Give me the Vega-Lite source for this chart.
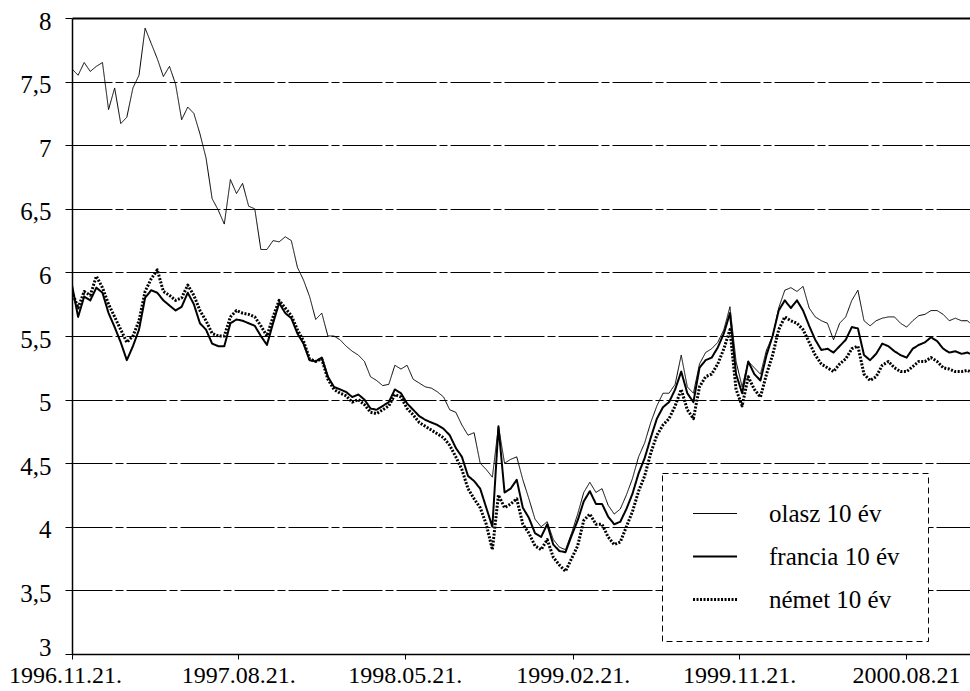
{
"$schema": "https://vega.github.io/schema/vega-lite/v6.json",
"width": 898,
"height": 636,
"autosize": {"type": "none"},
"padding": {"left": 72, "top": 18, "right": 0, "bottom": 37},
"background": "white",
"config": {"view": {"stroke": null}, "font": "Liberation Serif, Times New Roman, serif", "legend": {"strokeDash": [6, 4]}},
"data": {"values": [
{"nap":"1996-11-21","olasz 10 év":7.6,"francia 10 év":5.9,"német 10 év":5.85},
{"nap":"1996-12-01","olasz 10 év":7.55,"francia 10 év":5.65,"német 10 év":5.72},
{"nap":"1996-12-11","olasz 10 év":7.65,"francia 10 év":5.81,"német 10 év":5.85},
{"nap":"1996-12-21","olasz 10 év":7.58,"francia 10 év":5.78,"német 10 év":5.82},
{"nap":"1996-12-31","olasz 10 év":7.62,"francia 10 év":5.88,"német 10 év":5.97},
{"nap":"1997-01-10","olasz 10 év":7.65,"francia 10 év":5.84,"német 10 év":5.88},
{"nap":"1997-01-20","olasz 10 év":7.28,"francia 10 év":5.68,"német 10 év":5.75},
{"nap":"1997-01-30","olasz 10 év":7.45,"francia 10 év":5.57,"német 10 év":5.65},
{"nap":"1997-02-09","olasz 10 év":7.17,"francia 10 év":5.45,"német 10 év":5.55},
{"nap":"1997-02-19","olasz 10 év":7.22,"francia 10 év":5.31,"német 10 év":5.45},
{"nap":"1997-03-01","olasz 10 év":7.45,"francia 10 év":5.42,"német 10 év":5.5},
{"nap":"1997-03-11","olasz 10 év":7.55,"francia 10 év":5.55,"német 10 év":5.62},
{"nap":"1997-03-21","olasz 10 év":7.92,"francia 10 év":5.8,"német 10 év":5.85},
{"nap":"1997-03-31","olasz 10 év":7.8,"francia 10 év":5.86,"német 10 év":5.95},
{"nap":"1997-04-10","olasz 10 év":7.68,"francia 10 év":5.84,"német 10 év":6.02},
{"nap":"1997-04-20","olasz 10 év":7.54,"francia 10 év":5.78,"német 10 év":5.85},
{"nap":"1997-04-30","olasz 10 év":7.62,"francia 10 év":5.74,"német 10 év":5.82},
{"nap":"1997-05-10","olasz 10 év":7.48,"francia 10 év":5.7,"német 10 év":5.78},
{"nap":"1997-05-20","olasz 10 év":7.2,"francia 10 év":5.73,"német 10 év":5.8},
{"nap":"1997-05-30","olasz 10 év":7.3,"francia 10 év":5.84,"német 10 év":5.9},
{"nap":"1997-06-09","olasz 10 év":7.25,"francia 10 év":5.75,"német 10 év":5.82},
{"nap":"1997-06-19","olasz 10 év":7.09,"francia 10 év":5.6,"német 10 év":5.7},
{"nap":"1997-06-29","olasz 10 év":6.9,"francia 10 év":5.55,"német 10 év":5.62},
{"nap":"1997-07-09","olasz 10 év":6.58,"francia 10 év":5.44,"német 10 év":5.52},
{"nap":"1997-07-19","olasz 10 év":6.49,"francia 10 év":5.42,"német 10 év":5.5},
{"nap":"1997-07-29","olasz 10 év":6.38,"francia 10 év":5.42,"német 10 év":5.5},
{"nap":"1997-08-08","olasz 10 év":6.73,"francia 10 év":5.6,"német 10 év":5.65},
{"nap":"1997-08-18","olasz 10 év":6.62,"francia 10 év":5.63,"német 10 év":5.7},
{"nap":"1997-08-28","olasz 10 év":6.7,"francia 10 év":5.62,"német 10 év":5.68},
{"nap":"1997-09-07","olasz 10 év":6.52,"francia 10 év":5.6,"német 10 év":5.67},
{"nap":"1997-09-17","olasz 10 év":6.5,"francia 10 év":5.58,"német 10 év":5.65},
{"nap":"1997-09-27","olasz 10 év":6.18,"francia 10 év":5.5,"német 10 év":5.58},
{"nap":"1997-10-07","olasz 10 év":6.18,"francia 10 év":5.43,"német 10 év":5.5},
{"nap":"1997-10-17","olasz 10 év":6.25,"francia 10 év":5.6,"német 10 év":5.65},
{"nap":"1997-10-27","olasz 10 év":6.24,"francia 10 év":5.76,"német 10 év":5.78},
{"nap":"1997-11-06","olasz 10 év":6.28,"francia 10 év":5.68,"német 10 év":5.72},
{"nap":"1997-11-16","olasz 10 év":6.25,"francia 10 év":5.64,"német 10 év":5.66},
{"nap":"1997-11-26","olasz 10 év":6.04,"francia 10 év":5.52,"német 10 év":5.55},
{"nap":"1997-12-06","olasz 10 év":5.94,"francia 10 év":5.44,"német 10 év":5.46},
{"nap":"1997-12-16","olasz 10 év":5.81,"francia 10 év":5.31,"német 10 év":5.32},
{"nap":"1997-12-26","olasz 10 év":5.63,"francia 10 év":5.3,"német 10 év":5.3},
{"nap":"1998-01-05","olasz 10 év":5.68,"francia 10 év":5.33,"német 10 év":5.32},
{"nap":"1998-01-15","olasz 10 év":5.5,"francia 10 év":5.18,"német 10 év":5.16},
{"nap":"1998-01-25","olasz 10 év":5.5,"francia 10 év":5.1,"német 10 év":5.08},
{"nap":"1998-02-04","olasz 10 év":5.47,"francia 10 év":5.08,"német 10 év":5.05},
{"nap":"1998-02-14","olasz 10 év":5.42,"francia 10 év":5.06,"német 10 év":5.03},
{"nap":"1998-02-24","olasz 10 év":5.38,"francia 10 év":5.02,"német 10 év":4.98},
{"nap":"1998-03-06","olasz 10 év":5.35,"francia 10 év":5.04,"német 10 év":5.0},
{"nap":"1998-03-16","olasz 10 év":5.3,"francia 10 év":5.0,"német 10 év":4.96},
{"nap":"1998-03-26","olasz 10 év":5.18,"francia 10 év":4.93,"német 10 év":4.9},
{"nap":"1998-04-05","olasz 10 év":5.15,"francia 10 év":4.92,"német 10 év":4.89},
{"nap":"1998-04-15","olasz 10 év":5.11,"francia 10 év":4.95,"német 10 év":4.92},
{"nap":"1998-04-25","olasz 10 év":5.12,"francia 10 év":4.98,"német 10 év":4.95},
{"nap":"1998-05-05","olasz 10 év":5.27,"francia 10 év":5.08,"német 10 év":5.04},
{"nap":"1998-05-15","olasz 10 év":5.24,"francia 10 év":5.05,"német 10 év":5.02},
{"nap":"1998-05-25","olasz 10 év":5.27,"francia 10 év":4.97,"német 10 év":4.93},
{"nap":"1998-06-04","olasz 10 év":5.16,"francia 10 év":4.92,"német 10 év":4.88},
{"nap":"1998-06-14","olasz 10 év":5.13,"francia 10 év":4.87,"német 10 év":4.82},
{"nap":"1998-06-24","olasz 10 év":5.1,"francia 10 év":4.84,"német 10 év":4.79},
{"nap":"1998-07-04","olasz 10 év":5.09,"francia 10 év":4.82,"német 10 év":4.76},
{"nap":"1998-07-14","olasz 10 év":5.06,"francia 10 év":4.8,"német 10 év":4.73},
{"nap":"1998-07-24","olasz 10 év":5.02,"francia 10 év":4.77,"német 10 év":4.7},
{"nap":"1998-08-03","olasz 10 év":4.92,"francia 10 év":4.72,"német 10 év":4.64},
{"nap":"1998-08-13","olasz 10 év":4.9,"francia 10 év":4.62,"német 10 év":4.55},
{"nap":"1998-08-23","olasz 10 év":4.8,"francia 10 év":4.55,"német 10 év":4.45},
{"nap":"1998-09-02","olasz 10 év":4.72,"francia 10 év":4.4,"német 10 év":4.3},
{"nap":"1998-09-12","olasz 10 év":4.74,"francia 10 év":4.36,"német 10 év":4.22},
{"nap":"1998-09-22","olasz 10 év":4.5,"francia 10 év":4.3,"német 10 év":4.15},
{"nap":"1998-10-02","olasz 10 év":4.45,"francia 10 év":4.15,"német 10 év":4.02},
{"nap":"1998-10-12","olasz 10 év":4.39,"francia 10 év":4.0,"német 10 év":3.82},
{"nap":"1998-10-22","olasz 10 év":4.79,"francia 10 év":4.79,"német 10 év":4.25},
{"nap":"1998-11-01","olasz 10 év":4.5,"francia 10 év":4.27,"német 10 év":4.15},
{"nap":"1998-11-11","olasz 10 év":4.53,"francia 10 év":4.3,"német 10 év":4.18},
{"nap":"1998-11-21","olasz 10 év":4.55,"francia 10 év":4.37,"német 10 év":4.22},
{"nap":"1998-12-01","olasz 10 év":4.37,"francia 10 év":4.15,"német 10 év":4.02},
{"nap":"1998-12-11","olasz 10 év":4.22,"francia 10 év":4.07,"német 10 év":3.95},
{"nap":"1998-12-21","olasz 10 év":4.06,"francia 10 év":3.95,"német 10 év":3.85},
{"nap":"1998-12-31","olasz 10 év":4.0,"francia 10 év":3.92,"német 10 év":3.82},
{"nap":"1999-01-10","olasz 10 év":4.04,"francia 10 év":4.02,"német 10 év":3.9},
{"nap":"1999-01-20","olasz 10 év":3.9,"francia 10 év":3.86,"német 10 év":3.76},
{"nap":"1999-01-30","olasz 10 év":3.84,"francia 10 év":3.81,"német 10 év":3.7},
{"nap":"1999-02-09","olasz 10 év":3.82,"francia 10 év":3.8,"német 10 év":3.65},
{"nap":"1999-02-19","olasz 10 év":3.95,"francia 10 év":3.93,"német 10 év":3.75},
{"nap":"1999-03-01","olasz 10 év":4.1,"francia 10 év":4.05,"német 10 év":3.85},
{"nap":"1999-03-11","olasz 10 év":4.27,"francia 10 év":4.2,"német 10 év":4.05},
{"nap":"1999-03-21","olasz 10 év":4.35,"francia 10 év":4.28,"német 10 év":4.1},
{"nap":"1999-03-31","olasz 10 év":4.27,"francia 10 év":4.18,"német 10 év":4.02},
{"nap":"1999-04-10","olasz 10 év":4.3,"francia 10 év":4.18,"német 10 év":4.02},
{"nap":"1999-04-20","olasz 10 év":4.17,"francia 10 év":4.08,"német 10 év":3.92},
{"nap":"1999-04-30","olasz 10 év":4.1,"francia 10 év":4.02,"német 10 év":3.86},
{"nap":"1999-05-10","olasz 10 év":4.14,"francia 10 év":4.04,"német 10 év":3.88},
{"nap":"1999-05-20","olasz 10 év":4.25,"francia 10 év":4.14,"német 10 év":4.0},
{"nap":"1999-05-30","olasz 10 év":4.38,"francia 10 év":4.26,"német 10 év":4.12},
{"nap":"1999-06-09","olasz 10 év":4.55,"francia 10 év":4.42,"német 10 év":4.28},
{"nap":"1999-06-19","olasz 10 év":4.66,"francia 10 év":4.54,"német 10 év":4.4},
{"nap":"1999-06-29","olasz 10 év":4.82,"francia 10 év":4.7,"német 10 év":4.58},
{"nap":"1999-07-09","olasz 10 év":4.95,"francia 10 év":4.85,"német 10 év":4.72},
{"nap":"1999-07-19","olasz 10 év":5.05,"francia 10 év":4.94,"német 10 év":4.8},
{"nap":"1999-07-29","olasz 10 év":5.05,"francia 10 év":4.98,"német 10 év":4.85},
{"nap":"1999-08-08","olasz 10 év":5.12,"francia 10 év":5.08,"német 10 év":4.95},
{"nap":"1999-08-18","olasz 10 év":5.35,"francia 10 év":5.22,"német 10 év":5.08},
{"nap":"1999-08-28","olasz 10 év":5.1,"francia 10 év":5.05,"német 10 év":4.92},
{"nap":"1999-09-07","olasz 10 év":5.05,"francia 10 év":4.98,"német 10 év":4.85},
{"nap":"1999-09-17","olasz 10 év":5.28,"francia 10 év":5.25,"német 10 év":5.1},
{"nap":"1999-09-27","olasz 10 év":5.37,"francia 10 év":5.31,"német 10 év":5.18},
{"nap":"1999-10-07","olasz 10 év":5.4,"francia 10 év":5.33,"német 10 év":5.2},
{"nap":"1999-10-17","olasz 10 év":5.45,"francia 10 év":5.41,"német 10 év":5.28},
{"nap":"1999-10-27","olasz 10 év":5.55,"francia 10 év":5.52,"német 10 év":5.4},
{"nap":"1999-11-06","olasz 10 év":5.73,"francia 10 év":5.68,"német 10 év":5.55},
{"nap":"1999-11-16","olasz 10 év":5.3,"francia 10 év":5.2,"német 10 év":5.08},
{"nap":"1999-11-26","olasz 10 év":5.1,"francia 10 év":5.05,"német 10 év":4.95},
{"nap":"1999-12-06","olasz 10 év":5.3,"francia 10 év":5.3,"német 10 év":5.18},
{"nap":"1999-12-16","olasz 10 év":5.25,"francia 10 év":5.2,"német 10 év":5.08},
{"nap":"1999-12-26","olasz 10 év":5.2,"francia 10 év":5.15,"német 10 év":5.02},
{"nap":"2000-01-05","olasz 10 év":5.39,"francia 10 év":5.35,"német 10 év":5.2},
{"nap":"2000-01-15","olasz 10 év":5.5,"francia 10 év":5.5,"német 10 év":5.35},
{"nap":"2000-01-25","olasz 10 év":5.72,"francia 10 év":5.7,"német 10 év":5.55},
{"nap":"2000-02-04","olasz 10 év":5.86,"francia 10 év":5.78,"német 10 év":5.65},
{"nap":"2000-02-14","olasz 10 év":5.88,"francia 10 év":5.72,"német 10 év":5.62},
{"nap":"2000-02-24","olasz 10 év":5.85,"francia 10 év":5.78,"német 10 év":5.6},
{"nap":"2000-03-05","olasz 10 év":5.89,"francia 10 év":5.7,"német 10 év":5.55},
{"nap":"2000-03-15","olasz 10 év":5.72,"francia 10 év":5.58,"német 10 év":5.45},
{"nap":"2000-03-25","olasz 10 év":5.65,"francia 10 év":5.47,"német 10 év":5.35},
{"nap":"2000-04-04","olasz 10 év":5.62,"francia 10 év":5.39,"német 10 év":5.28},
{"nap":"2000-04-14","olasz 10 év":5.6,"francia 10 év":5.4,"német 10 év":5.25},
{"nap":"2000-04-24","olasz 10 év":5.47,"francia 10 év":5.37,"német 10 év":5.22},
{"nap":"2000-05-04","olasz 10 év":5.6,"francia 10 év":5.42,"német 10 év":5.28},
{"nap":"2000-05-14","olasz 10 év":5.65,"francia 10 év":5.47,"német 10 év":5.32},
{"nap":"2000-05-24","olasz 10 év":5.78,"francia 10 év":5.57,"német 10 év":5.4},
{"nap":"2000-06-03","olasz 10 év":5.86,"francia 10 év":5.56,"német 10 év":5.42},
{"nap":"2000-06-13","olasz 10 év":5.62,"francia 10 év":5.35,"német 10 év":5.2},
{"nap":"2000-06-23","olasz 10 év":5.58,"francia 10 év":5.31,"német 10 év":5.15},
{"nap":"2000-07-03","olasz 10 év":5.62,"francia 10 év":5.36,"német 10 év":5.18},
{"nap":"2000-07-13","olasz 10 év":5.64,"francia 10 év":5.44,"német 10 év":5.27},
{"nap":"2000-07-23","olasz 10 év":5.65,"francia 10 év":5.42,"német 10 év":5.3},
{"nap":"2000-08-02","olasz 10 év":5.65,"francia 10 év":5.38,"német 10 év":5.25},
{"nap":"2000-08-12","olasz 10 év":5.6,"francia 10 év":5.35,"német 10 év":5.22},
{"nap":"2000-08-22","olasz 10 év":5.57,"francia 10 év":5.33,"német 10 év":5.22},
{"nap":"2000-09-01","olasz 10 év":5.62,"francia 10 év":5.4,"német 10 év":5.26},
{"nap":"2000-09-11","olasz 10 év":5.66,"francia 10 év":5.43,"német 10 év":5.3},
{"nap":"2000-09-21","olasz 10 év":5.67,"francia 10 év":5.45,"német 10 év":5.3},
{"nap":"2000-10-01","olasz 10 év":5.7,"francia 10 év":5.49,"német 10 év":5.33},
{"nap":"2000-10-11","olasz 10 év":5.7,"francia 10 év":5.46,"német 10 év":5.3},
{"nap":"2000-10-21","olasz 10 év":5.67,"francia 10 év":5.4,"német 10 év":5.25},
{"nap":"2000-10-31","olasz 10 év":5.62,"francia 10 év":5.37,"német 10 év":5.24},
{"nap":"2000-11-10","olasz 10 év":5.64,"francia 10 év":5.38,"német 10 év":5.22},
{"nap":"2000-11-20","olasz 10 év":5.62,"francia 10 év":5.36,"német 10 év":5.22},
{"nap":"2000-11-30","olasz 10 év":5.62,"francia 10 év":5.37,"német 10 év":5.23},
{"nap":"2000-12-04","olasz 10 év":5.6,"francia 10 év":5.36,"német 10 év":5.22}
]},
"transform": [{"fold": ["olasz 10 év", "francia 10 év", "német 10 év"], "as": ["sorozat", "hozam"]}],
"mark": {"type": "line", "color": "black", "strokeJoin": "round", "clip": true},
"encoding": {
  "x": {
    "field": "nap", "type": "temporal",
    "scale": {"domain": [{"year": 1996, "month": 11, "date": 21, "utc": true}, {"year": 2000, "month": 12, "date": 4, "utc": true}]},
    "axis": {
      "title": null,
      "values": [
        {"year": 1996, "month": 11, "date": 21, "utc": true},
        {"year": 1997, "month": 8, "date": 21, "utc": true},
        {"year": 1998, "month": 5, "date": 21, "utc": true},
        {"year": 1999, "month": 2, "date": 21, "utc": true},
        {"year": 1999, "month": 11, "date": 21, "utc": true},
        {"year": 2000, "month": 8, "date": 21, "utc": true}
      ],
      "labelExpr": "utcyear(datum.value) == 2000 ? utcFormat(datum.value, '%Y.%m.%d') : utcFormat(datum.value, '%Y.%m.%d.')",
      "labelOffset": {"condition": {"test": "datum.index === 0", "value": -7}, "value": 0},
      "grid": false,
      "tickSize": 5, "tickColor": "black", "tickWidth": 1,
      "domainColor": "black", "domainWidth": 1.5,
      "labelFont": "Liberation Serif, Times New Roman, serif", "labelFontSize": 24, "labelColor": "black",
      "labelPadding": 4, "labelOverlap": false, "labelFlush": false, "labelBound": false
    }
  },
  "y": {
    "field": "hozam", "type": "quantitative",
    "scale": {"domain": [3, 8], "nice": false, "zero": false},
    "axis": {
      "title": null,
      "values": [3, 3.5, 4, 4.5, 5, 5.5, 6, 6.5, 7, 7.5, 8],
      "labelExpr": "replace(format(datum.value, '.1~f'), '.', ',')",
      "labelOffset": {"condition": {"test": "datum.value === 3", "value": -7}, "value": 3},
      "grid": true, "gridColor": "black",
      "gridWidth": {"condition": {"test": "datum.value === 8", "value": 2}, "value": 1},
      "gridDash": {"condition": {"test": "datum.value === 8", "value": []}, "value": [40, 3, 8, 3]},
      "tickSize": 7, "tickColor": "black",
      "domainColor": "black", "domainWidth": 1.5,
      "labelFont": "Liberation Serif, Times New Roman, serif", "labelFontSize": 25, "labelColor": "black", "labelPadding": 14
    }
  },
  "strokeWidth": {
    "field": "sorozat", "type": "nominal",
    "scale": {"domain": ["olasz 10 év", "francia 10 év", "német 10 év"], "range": [1, 3, 1]},
    "legend": {"title": null, "orient": "none", "legendX": 590, "legendY": 455, "symbolType": "M-0.86,0H3.14", "symbolSize": 484, "symbolStrokeColor": "black", "labelFont": "Liberation Serif, Times New Roman, serif", "labelFontSize": 25, "labelColor": "black", "labelOffset": 54, "rowPadding": 17, "padding": 28, "strokeColor": "black", "fillColor": "white"}
  },
  "strokeDash": {
    "field": "sorozat", "type": "nominal",
    "scale": {"domain": ["olasz 10 év", "francia 10 év", "német 10 év"], "range": [[1, 0], [1, 0], [2, 1.5]]},
    "legend": {"title": null, "orient": "none", "legendX": 590, "legendY": 455, "symbolType": "M-0.86,0H3.14", "symbolSize": 484, "symbolStrokeColor": "black", "labelFont": "Liberation Serif, Times New Roman, serif", "labelFontSize": 25, "labelColor": "black", "labelOffset": 54, "rowPadding": 17, "padding": 28, "strokeColor": "black", "fillColor": "white"}
  }
}
}
